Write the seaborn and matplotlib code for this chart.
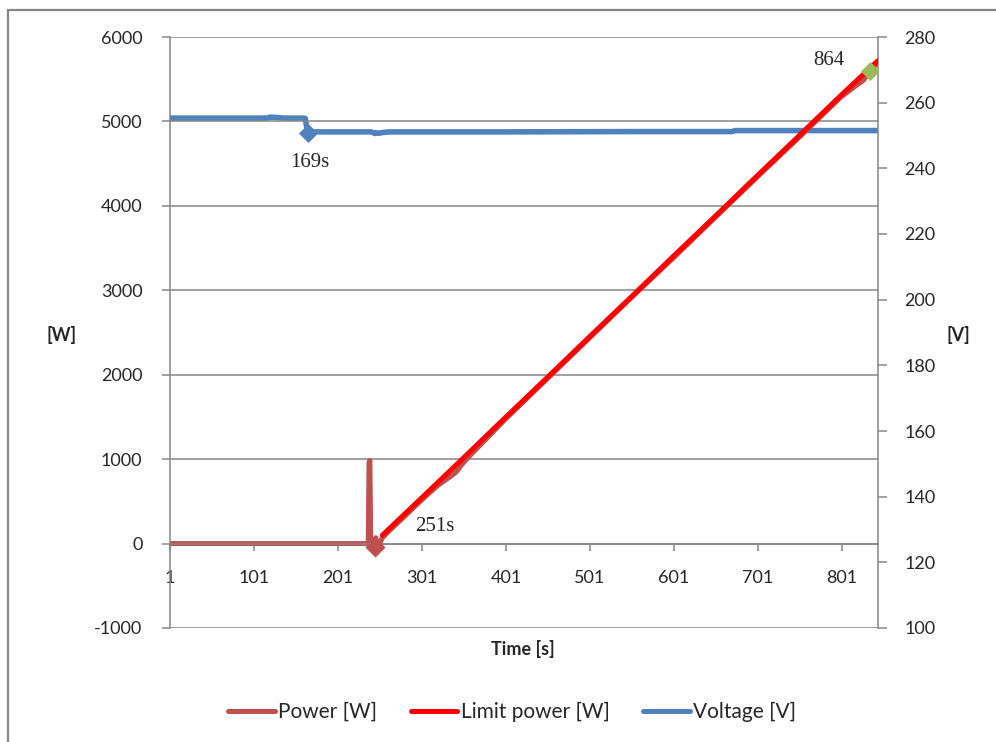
import matplotlib
matplotlib.use("Agg")
import matplotlib.pyplot as plt
import seaborn as sns
import pandas as pd
from matplotlib.patches import Rectangle
from matplotlib.lines import Line2D

# Axis ticks
sample_ticks = [1, 101, 201, 301, 401, 501, 601, 701, 801]
power_ticks = [-1000, 0, 1000, 2000, 3000, 4000, 5000, 6000]
voltage_ticks = [100, 120, 140, 160, 180, 200, 220, 240, 260, 280]

# Measured grid voltage [V] per sample
voltage_idx = [1, 60, 117, 120, 128, 136, 160, 162, 164, 165, 166, 168, 172,
               240, 243, 245, 247, 250, 254, 262, 400, 560, 670, 674, 844]
voltage_v = [255.3, 255.3, 255.3, 255.6, 255.5, 255.3, 255.3, 255.2, 252.2,
             250.8, 251.5, 250.9, 251.1, 251.1, 250.9, 250.6, 250.8, 250.7,
             250.9, 251.1, 251.1, 251.2, 251.2, 251.5, 251.5]

# Measured inverter output power [W] per sample
power_idx = [1, 236, 237, 238, 239, 240, 241, 243, 244, 245, 246, 247, 248,
             249, 250, 251, 252, 254, 262, 280, 300, 320, 330, 336, 342, 348,
             356, 400, 450, 500, 550, 600, 650, 700, 750, 800, 820, 826, 835,
             844]
power_w = [0, 0, 0, 960, 985, 20, 0, 30, -80, -40, 70, -110, 20, -60, 10,
           -30, 30, 70, 150, 320, 510, 690, 760, 800, 850, 930, 1020, 1470,
           1950, 2430, 2910, 3380, 3860, 4340, 4810, 5290, 5440, 5480, 5600,
           5700]

# Power limit setpoint [W] per sample
limit_idx = [254, 300, 350, 400, 450, 500, 550, 600, 650, 700, 750, 800, 844]
limit_w = [100, 535, 1010, 1490, 1965, 2445, 2920, 3400, 3875, 4355, 4830,
           5310, 5720]

# Highlighted samples: (sample index, label)
marked_voltage = (165, "169s")
marked_power = [(245, "251s"), (835, "864")]

C_POWER = "#C0504D"
C_LIMIT = "#FF0000"
C_VOLT = "#4F81BD"
C_MARK = "#9BBB59"
C_GRID = "#868686"

sns.set_style("white")
plt.rcParams["font.family"] = ["Lato", "DejaVu Sans"]
plt.rcParams["font.size"] = 13
plt.rcParams["axes.unicode_minus"] = False

fig = plt.figure(figsize=(9.96, 7.42), dpi=100)
ax = fig.add_axes([170 / 996, 1 - 628 / 742, 708 / 996, 591 / 742])
ax2 = ax.twinx()
ax.set_zorder(ax2.get_zorder() + 1)
ax.patch.set_visible(False)

df_power = pd.DataFrame({"sample": power_idx, "value": power_w})
df_limit = pd.DataFrame({"sample": limit_idx, "value": limit_w})
df_volt = pd.DataFrame({"sample": voltage_idx, "value": voltage_v})

sns.lineplot(data=df_volt, x="sample", y="value", ax=ax2, color=C_VOLT,
             linewidth=4, estimator=None, sort=False, legend=False)
sns.lineplot(data=df_power, x="sample", y="value", ax=ax, color=C_POWER,
             linewidth=3.6, estimator=None, sort=False, legend=False)
sns.lineplot(data=df_limit, x="sample", y="value", ax=ax, color=C_LIMIT,
             linewidth=3.6, estimator=None, sort=False, legend=False)

# Highlight markers and their labels
vi = voltage_idx.index(marked_voltage[0])
sns.scatterplot(x=[voltage_idx[vi]], y=[voltage_v[vi]], ax=ax2, marker="D",
                s=80, color=C_VOLT, edgecolor=C_VOLT, legend=False)
ax2.annotate(marked_voltage[1], (voltage_idx[vi], voltage_v[vi]),
             xytext=(2, -30), textcoords="offset pixels", ha="center",
             va="center", fontsize=15, family="Liberation Serif")

pi = power_idx.index(marked_power[0][0])
sns.scatterplot(x=[power_idx[pi]], y=[power_w[pi]], ax=ax, marker="D",
                s=90, color=C_POWER, edgecolor=C_POWER, legend=False, zorder=4)
ax.annotate(marked_power[0][1], (power_idx[pi], power_w[pi]),
            xytext=(40, 20), textcoords="offset pixels", ha="left",
            va="center", fontsize=15, family="Liberation Serif")

ei = power_idx.index(marked_power[1][0])
sns.scatterplot(x=[power_idx[ei]], y=[power_w[ei]], ax=ax, marker="D",
                s=80, color=C_MARK, edgecolor=C_MARK, legend=False, zorder=5)
ax.annotate(marked_power[1][1], (power_idx[ei], power_w[ei]),
            xytext=(-42, 10), textcoords="offset pixels", ha="center",
            va="center", fontsize=15, family="Liberation Serif")

# Axes limits and ticks
ax.set_xlim(1, 844)
ax.set_ylim(-1000, 6000)
ax2.set_ylim(100, 280)
ax.set_xticks(sample_ticks)
ax.set_yticks(power_ticks)
ax2.set_yticks(voltage_ticks)

ax.yaxis.grid(True, color=C_GRID, linewidth=1.1)
ax.xaxis.grid(False)
ax2.grid(False)

for s in ["top", "right"]:
    ax.spines[s].set_visible(False)
ax.spines["bottom"].set_position(("data", 0))
ax.spines["bottom"].set_color(C_GRID)
ax.spines["left"].set_color(C_GRID)
ax.spines["bottom"].set_linewidth(1.1)
ax.spines["left"].set_linewidth(1.1)
for s in ["top", "bottom", "left"]:
    ax2.spines[s].set_visible(False)
ax2.spines["right"].set_color(C_GRID)
ax2.spines["right"].set_linewidth(1.1)

ax.tick_params(axis="y", left=True, direction="out", length=5.8, width=1.1,
               color=C_GRID, pad=14, labelsize=13)
ax.tick_params(axis="x", bottom=True, direction="out", length=5, width=1.1,
               color=C_GRID, pad=14, labelsize=13)
ax2.tick_params(axis="y", right=True, direction="out", length=6.5, width=1.1,
                color=C_GRID, pad=12.5, labelsize=13)

ax.set_xlabel("Time [s]", fontweight="bold", fontsize=13)
ax.xaxis.set_label_coords(0.4986, -0.02)
ax.set_ylabel("[W]", fontweight="bold", fontsize=13, rotation=0,
              ha="center", va="center")
ax.yaxis.set_label_coords(-0.1525, 0.496)
ax2.set_ylabel("[V]", fontweight="bold", fontsize=13, rotation=0,
               ha="center", va="center")
ax2.yaxis.set_label_coords(1.113, 0.496)

handles = [Line2D([], [], color=C_POWER, lw=3.6),
           Line2D([], [], color=C_LIMIT, lw=3.6),
           Line2D([], [], color=C_VOLT, lw=3.6)]
fig.legend(handles, ["Power [W]", "Limit power [W]", "Voltage [V]"],
           loc="center", bbox_to_anchor=(512 / 996, 1 - 712 / 742), ncol=3,
           frameon=False, fontsize=15, handlelength=2.25, handletextpad=0.15,
           columnspacing=1.6)

# Chart frame
fig.add_artist(Rectangle((8 / 996, -0.1), 1.5, 1 - 10 / 742 + 0.1,
                         transform=fig.transFigure, fill=False,
                         edgecolor=C_GRID, linewidth=1.6))

fig.savefig("out.png", dpi=100)
